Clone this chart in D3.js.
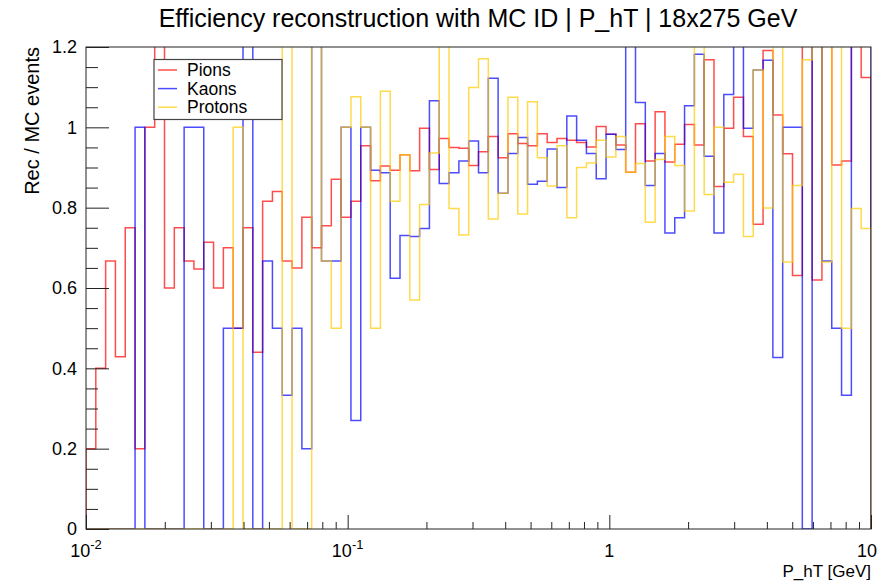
<!DOCTYPE html>
<html>
<head>
<meta charset="utf-8">
<script src="https://cdn.jsdelivr.net/npm/d3@7"></script>
<style>
  body { margin: 0; background: #fff; }
  text { font-family: "Liberation Sans", Arial, sans-serif; fill: #000; }
</style>
</head>
<body>
<div id="chart"></div>
<script>
let width = 894,
    height = 587;

// histogram binning: 80 log bins between 0.01 and 10 GeV
let nBins = 80, xMin = 0.01, xMax = 10;

// bin contents (1.5 = above the 1.2 frame)
let pions = [0.2, 0.4, 0.667, 0.429, 0.75, 0.2, 1.0, 1.5, 0.6, 0.75,
    0.667, 0.647, 0.714, 0.6, 0.7, 0.5, 0.75, 0.44, 0.816, 0.84,
    0.667, 0.65, 0.776, 0.70, 0.755, 0.871, 0.776, 0.816, 0.954, 0.867,
    0.904, 0.893, 0.932, 0.892, 0.998, 0.895, 0.972, 0.95, 0.948, 0.905,
    0.939, 0.977, 0.924, 0.984, 0.96, 0.954, 0.984, 0.962, 0.972, 0.968,
    0.962, 0.951, 1.002, 0.983, 0.956, 0.888, 1.009, 0.916, 1.039, 0.914,
    0.958, 1.007, 0.956, 1.168, 0.853, 0.998, 1.075, 0.977, 0.759, 1.191,
    1.031, 0.934, 0.631, 1.5, 0.62, 1.5, 0.906, 0.916, 1.5, 1.124];

let kaons = [0, 0, 0, 0, 0, 1.0, 0, 0, 0, 0,
    1.0, 1.0, 0, 0, 0.5, 0.5, 1.5, 0, 0.667, 0.5,
    0.333, 0.5, 0.2, 1.5, 0.667, 0.667, 1.0, 0.27, 1.0, 0.893,
    0.887, 0.624, 0.731, 0.728, 0.748, 1.066, 0.86, 0.887, 0.916, 0.966,
    0.887, 1.122, 0.836, 0.935, 0.975, 0.858, 0.866, 0.946, 0.85, 1.028,
    0.968, 0.935, 0.872, 0.983, 0.945, 1.5, 1.062, 0.855, 0.935, 0.737,
    0.775, 1.054, 1.182, 0.928, 0.737, 1.082, 1.5, 0.998, 1.143, 1.167,
    0.427, 1.0, 1.0, 0, 1.5, 0.667, 0.5, 0.333, 1.5, 1.5];

let protons = [0, 0, 0, 0, 0, 0, 0, 0, 0, 0,
    0, 0, 0, 0, 0, 1.0, 0, 0, 0, 0,
    1.5, 0, 0, 1.5, 0.667, 0.5, 1.0, 1.076, 1.0, 0.5,
    1.09, 0.816, 0.932, 0.57, 0.808, 0.936, 1.5, 0.798, 0.732, 1.099,
    1.171, 0.772, 0.836, 1.075, 0.784, 1.064, 0.924, 0.854, 0.954, 0.775,
    0.9, 0.911, 0.968, 0.926, 0.977, 0.888, 0.91, 0.764, 0.92, 0.977,
    0.905, 0.792, 1.5, 0.833, 1.0, 0.863, 0.883, 0.728, 1.143, 0.799,
    1.5, 0.665, 0.855, 1.168, 1.5, 0.665, 1.5, 0.5, 0.798, 0.748];

let seriesNames = ["Pions", "Kaons", "Protons"];
let seriesColors = ["#ff0000", "#0000ff", "#ffcc00"];
let yTicks = [0, 0.2, 0.4, 0.6, 0.8, 1, 1.2];
let xMajor = [0.01, 0.1, 1, 10];
let xLabels = [["10", "-2"], ["10", "-1"], ["1", ""], ["10", ""]];

let margin = {left: 86, right: 23, top: 47, bottom: 58};
let plotW = width - margin.left - margin.right,
    plotH = height - margin.top - margin.bottom;

let svg = d3.select("#chart")
    .append("svg")
    .attr("width", width)
    .attr("height", height);

svg.append("rect").attr("width", width).attr("height", height).attr("fill", "#fff");

let x = d3.scaleLog().domain([xMin, xMax]).range([margin.left, margin.left + plotW]);
let y = d3.scaleLinear().domain([0, 1.2]).range([margin.top + plotH, margin.top]);

let edges = d3.range(nBins + 1).map(i => xMin * Math.pow(xMax / xMin, i / nBins));

svg.append("clipPath").attr("id", "plotclip")
    .append("rect")
    .attr("x", margin.left).attr("y", margin.top)
    .attr("width", plotW).attr("height", plotH);

//step outline like ROOT's HIST drawing
function stepPoints(vals) {
    let pts = [[edges[0], 0]];
    vals.forEach(function(v, i) {
        pts.push([edges[i], v]);
        pts.push([edges[i + 1], v]);
    });
    pts.push([edges[nBins], 0]);
    return pts;
}

let line = d3.line().x(d => x(d[0])).y(d => y(d[1]));

let hists = svg.append("g").attr("clip-path", "url(#plotclip)");
[pions, kaons, protons].forEach(function(vals, i) {
    hists.append("path")
        .attr("d", line(stepPoints(vals)))
        .attr("fill", "none")
        .attr("stroke", seriesColors[i])
        .attr("stroke-opacity", 0.7)
        .attr("stroke-width", 1.5);
});

// frame
svg.append("rect")
    .attr("x", margin.left).attr("y", margin.top)
    .attr("width", plotW).attr("height", plotH)
    .attr("fill", "none").attr("stroke", "#222").attr("stroke-width", 1);

// y axis, ticks inside the frame
let yAxis = svg.append("g")
    .attr("transform", "translate(" + margin.left + ",0)")
    .call(d3.axisLeft(y).tickValues(yTicks).tickSize(-23).tickPadding(9)
        .tickFormat(d => d3.format("~g")(d)));
yAxis.select(".domain").remove();
yAxis.selectAll("text").style("font-size", "18px").attr("font-family", null);
yAxis.selectAll("line").attr("stroke", "#222");

let yMinor = d3.range(0, 1.2001, 0.05).filter(v => Math.abs(v * 5 - Math.round(v * 5)) > 1e-6);
let yAxisMinor = svg.append("g")
    .attr("transform", "translate(" + margin.left + ",0)")
    .call(d3.axisLeft(y).tickValues(yMinor).tickSize(-12).tickFormat(""));
yAxisMinor.select(".domain").remove();
yAxisMinor.selectAll("line").attr("stroke", "#222");

// x axis (log)
let xMinor = [];
[0.01, 0.1, 1].forEach(function(dec) {
    for (let m = 2; m <= 9; m++) xMinor.push(dec * m);
});

let xAxisMinor = svg.append("g")
    .attr("transform", "translate(0," + (margin.top + plotH) + ")")
    .call(d3.axisBottom(x).tickValues(xMinor).tickSize(-7).tickFormat(""));
xAxisMinor.select(".domain").remove();
xAxisMinor.selectAll("line").attr("stroke", "#222");

let xAxis = svg.append("g")
    .attr("transform", "translate(0," + (margin.top + plotH) + ")")
    .call(d3.axisBottom(x).tickValues(xMajor).tickSize(-14).tickFormat(""));
xAxis.select(".domain").remove();
xAxis.selectAll("line").attr("stroke", "#222");

xMajor.forEach(function(v, i) {
    let t = svg.append("text")
        .attr("x", x(v) - (i == 3 ? 4 : 0))
        .attr("y", margin.top + plotH + 28)
        .attr("text-anchor", "middle")
        .style("font-size", "18px");
    t.append("tspan").text(xLabels[i][0]);
    if (xLabels[i][1]) {
        t.append("tspan").attr("dy", -8).style("font-size", "13px").text(xLabels[i][1]);
    }
});

// titles
svg.append("text")
    .attr("x", 478).attr("y", 27)
    .attr("text-anchor", "middle")
    .style("font-size", "25px")
    .text("Efficiency reconstruction with MC ID | P_hT | 18x275 GeV");

svg.append("text")
    .attr("x", margin.left + plotW).attr("y", 577)
    .attr("text-anchor", "end")
    .style("font-size", "17px")
    .text("P_hT [GeV]");

svg.append("text")
    .attr("transform", "translate(39," + margin.top + ") rotate(-90)")
    .attr("text-anchor", "end")
    .style("font-size", "20px")
    .text("Rec / MC events");

// legend
let legend = svg.append("g").attr("class", "legend");
legend.append("rect")
    .attr("x", 154).attr("y", 59.5)
    .attr("width", 128).attr("height", 60)
    .attr("fill", "#fff").attr("stroke", "#444").attr("stroke-width", 1.2);

seriesNames.forEach(function(name, i) {
    let cy = 70 + i * 18.6;
    legend.append("line")
        .attr("x1", 158).attr("x2", 177)
        .attr("y1", cy).attr("y2", cy)
        .attr("stroke", seriesColors[i])
        .attr("stroke-opacity", 0.7)
        .attr("stroke-width", 1.5);
    legend.append("text")
        .attr("x", 187).attr("y", cy + 6)
        .style("font-size", "17.5px")
        .text(name);
});
</script>
</body>
</html>
